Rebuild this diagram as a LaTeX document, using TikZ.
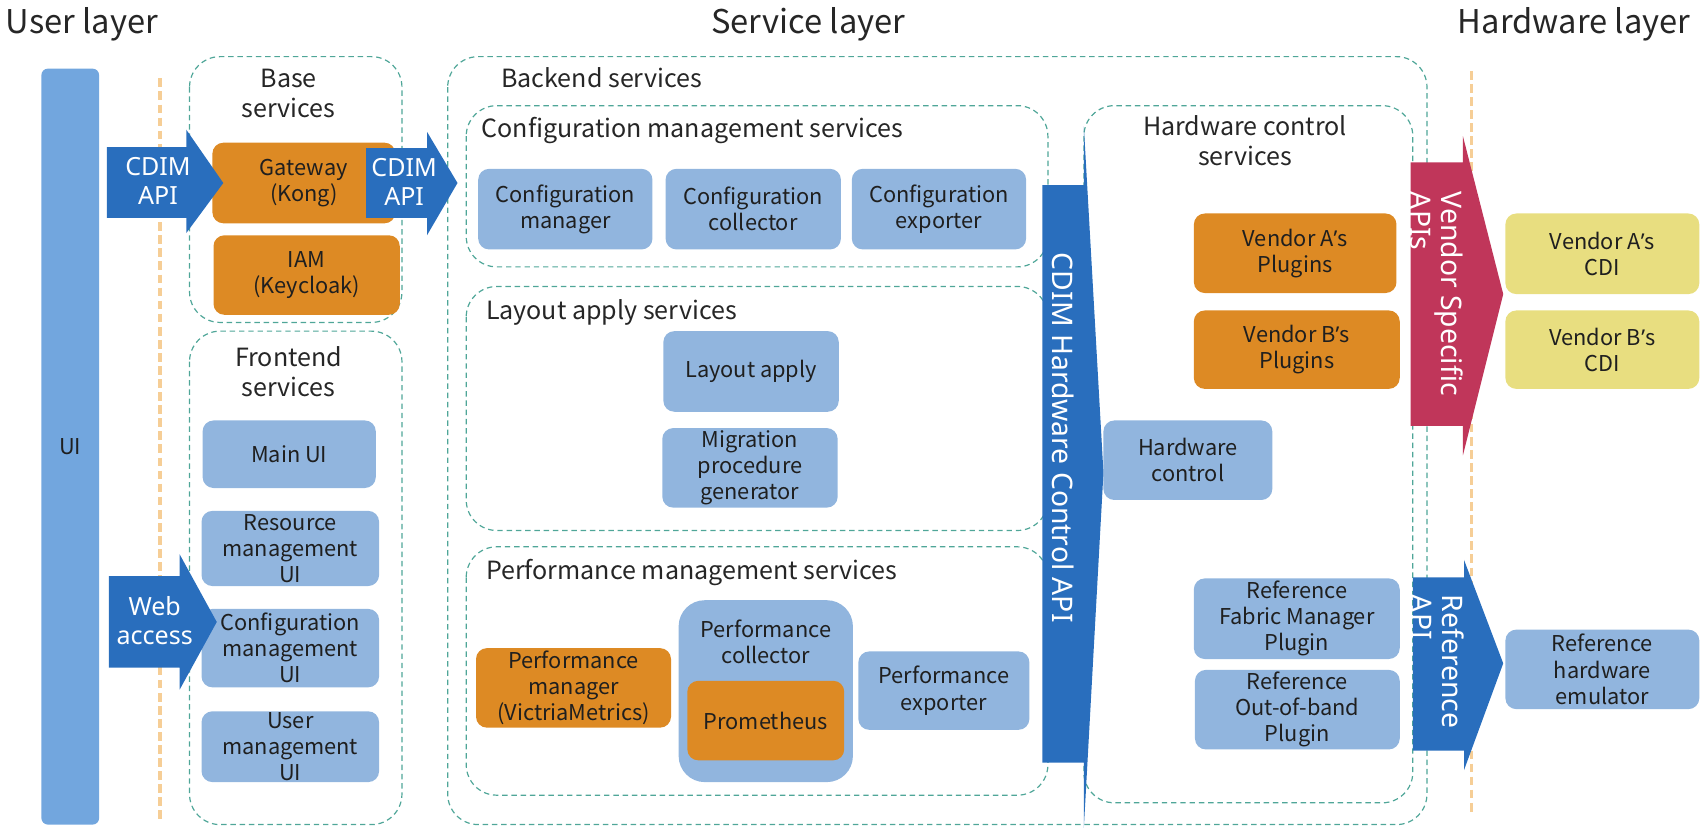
\documentclass[tikz,border=0pt]{standalone}
\usepackage{fontspec}
\setmainfont{Noto Sans CJK JP}
\newfontfamily\arrowfam{Noto Sans}
\newfontfamily\aposfam{Noto Sans}
\definecolor{tealdash}{RGB}{79,166,152}
\definecolor{lorange}{RGB}{246,206,150}
\definecolor{uiblue}{RGB}{114,166,222}
\definecolor{boxblue}{RGB}{145,181,222}
\definecolor{boxorange}{RGB}{221,138,36}
\definecolor{boxyellow}{RGB}{232,222,128}
\definecolor{arrblue}{RGB}{41,110,189}
\definecolor{arrred}{RGB}{192,54,90}
\newcommand{\myboxfont}{\fontsize{20}{24}\selectfont}
\newcommand{\mysectfont}{\fontsize{23}{27.5}\selectfont}
\newcommand{\mytitlefont}{\fontsize{30}{34}\selectfont}
\newcommand{\myarrfont}{\arrowfam\fontsize{23}{27}\selectfont}
\newcommand{\myvarrfont}{\arrowfam\fontsize{26}{28}\selectfont}
\newcommand{\ap}{{\aposfam ’}}
\newcommand{\mybox}[7]{\node[#1, minimum width={(#5-#3)*1pt}, minimum height={(#6-#4)*1pt}] (#2) at ({(#3+#5)/2},{(#4+#6)/2}) {#7};}
\tikzset{
  cont/.style={draw=tealdash, dash pattern=on 5pt off 3.5pt, line width=1.1pt, rounded corners=28pt},
  bbox/.style={fill=boxblue, rounded corners=10pt, align=center, inner sep=0pt, font=\myboxfont, text=black!88},
  obox/.style={bbox, fill=boxorange},
  ybox/.style={bbox, fill=boxyellow},
  layertitle/.style={font=\mytitlefont, inner sep=0pt, text=black!85},
  sect/.style={font=\mysectfont, inner sep=0pt, align=center, text=black!85},
  arrtext/.style={text=white, font=\myarrfont, inner sep=0pt, align=center},
  varrtext/.style={text=white, font=\myvarrfont, inner sep=0pt, align=left, rotate=-90, anchor=west},
  layerline/.style={draw=lorange, line width=3pt, dash pattern=on 8pt off 4pt},
}
\begin{document}
\begin{tikzpicture}[x=1pt,y=-1pt]
\useasboundingbox (0,0) rectangle (1568,770);

% layer titles
\node[layertitle] (tuser) at (75,22) {User layer};
\node[layertitle] (tservice) at (742,22) {Service layer};
\node[layertitle] (thw) at (1445,22) {Hardware layer};

% layer separator lines
\coordinate (l1a) at (147,72); \coordinate (l1b) at (147,755);
\coordinate (l2a) at (1351,65); \coordinate (l2b) at (1351,748);
\draw[layerline] (l1a) -- (l1b);
\draw[layerline] (l2a) -- (l2b);

% UI bar
\node[fill=uiblue, rounded corners=6pt, minimum width=53pt, minimum height=694pt, inner sep=0pt] (ui) at (64.5,410) {};
\node[font=\myboxfont, inner sep=0pt, text=black!88] (uitext) at (64.5,410) {UI};

% containers
\draw[cont] (174,52) rectangle (369,296);
\node[sect] (tbase) at (265,86) {Base\\services};
\draw[cont] (174,304) rectangle (369,757);
\node[sect] (tfront) at (265,341) {Frontend\\services};
\draw[cont] (411,52) rectangle (1310,757);
\node[sect, anchor=west] (tback) at (460,71) {Backend services};
\draw[cont] (428,97) rectangle (962,245);
\node[sect, anchor=west] (tconf) at (442,120) {Configuration management services};
\draw[cont] (428,263) rectangle (962,487);
\node[sect, anchor=west] (tlay) at (446,287) {Layout apply services};
\draw[cont] (428,502) rectangle (962,730);
\node[sect, anchor=west] (tperf) at (446,526) {Performance management services};
\draw[cont] (995,97) rectangle (1297,737);
\node[sect] (thwc) at (1143,129) {Hardware control\\services};

% base services
\mybox{obox}{gw}{195}{131}{363}{205}{Gateway\\(Kong)}
\mybox{obox}{iam}{196}{216}{367}{289}{IAM\\(Keycloak)}

% frontend
\mybox{bbox}{mainui}{186}{386}{345}{448}{Main UI}
\mybox{bbox}{resui}{185}{469}{348}{538}{Resource\\management\\UI}
\mybox{bbox}{confui}{185}{559}{348}{631}{Configuration\\management\\UI}
\mybox{bbox}{userui}{185}{653}{348}{718}{User\\management\\UI}

% configuration management
\mybox{bbox}{cmgr}{439}{155}{599}{229}{Configuration\\manager}
\mybox{bbox}{ccol}{611}{155}{772}{229}{Configuration\\collector}
\mybox{bbox}{cexp}{782}{155}{942}{229}{Configuration\\exporter}

% layout apply
\mybox{bbox}{lapply}{609}{304}{770}{378}{Layout apply}
\mybox{bbox}{migr}{608}{393}{769}{466}{Migration\\procedure\\generator}

% performance management
\mybox{obox}{pmgr}{437}{595}{616}{668}{Performance\\manager\\(VictriaMetrics)}
\node[fill=boxblue, rounded corners=24pt, minimum width=160pt, minimum height=167pt, inner sep=0pt] (pcol) at (703,634.5) {};
\node[font=\myboxfont, align=center, inner sep=0pt, text=black!88] (pcoltext) at (703,589) {Performance\\collector};
\mybox{obox}{prom}{631}{625}{775}{698}{Prometheus}
\mybox{bbox}{pexp}{788}{598}{945}{670}{Performance\\exporter}

% hardware control
\mybox{obox}{vap}{1096}{196}{1282}{269}{Vendor A\ap s\\Plugins}
\mybox{obox}{vbp}{1096}{285}{1285}{357}{Vendor B\ap s\\Plugins}
\mybox{bbox}{hwc}{1013}{386}{1168}{459}{Hardware\\control}
\mybox{bbox}{rfm}{1096}{531}{1285}{605}{Reference\\Fabric Manager\\Plugin}
\mybox{bbox}{roob}{1097}{615}{1285}{688}{Reference\\Out-of-band\\Plugin}

% hardware layer
\mybox{ybox}{vacdi}{1382}{196}{1560}{270}{Vendor A\ap s\\CDI}
\mybox{ybox}{vbcdi}{1382}{285}{1560}{357}{Vendor B\ap s\\CDI}
\mybox{bbox}{remu}{1382}{578}{1560}{651}{Reference\\hardware\\emulator}

% block arrows
\fill[arrblue] (98,135) -- (171,135) -- (171,119) -- (205,168) -- (171,214) -- (171,200) -- (98,200) -- cycle;
\node[arrtext] (a1) at (145,166) {CDIM\\API};
\fill[arrblue] (336,136) -- (392,136) -- (392,121) -- (420,168) -- (392,216) -- (392,200) -- (336,200) -- cycle;
\node[arrtext] (a2) at (371,167) {CDIM\\API};
\fill[arrblue] (100,529) -- (165,529) -- (165,509) -- (199,571) -- (165,633) -- (165,613) -- (100,613) -- cycle;
\node[arrtext] (a3) at (142,570) {Web\\access};
\fill[arrblue] (957,170) -- (995,170) -- (995,116) -- (1013,434) -- (995,760) -- (995,700) -- (957,700) -- cycle;
\node[varrtext] (a4) at (976,232) {CDIM Hardware Control API};
\fill[arrred] (1295,149) -- (1343,149) -- (1343,125) -- (1380,270) -- (1343,418) -- (1343,391) -- (1295,391) -- cycle;
\node[varrtext] (a5) at (1319,176) {Vendor Specific\\APIs};
\fill[arrblue] (1297,530) -- (1344,530) -- (1344,514) -- (1380,609) -- (1344,707) -- (1344,689) -- (1297,689) -- cycle;
\node[varrtext] (a6) at (1320,546) {Reference\\API};
\end{tikzpicture}
\end{document}
